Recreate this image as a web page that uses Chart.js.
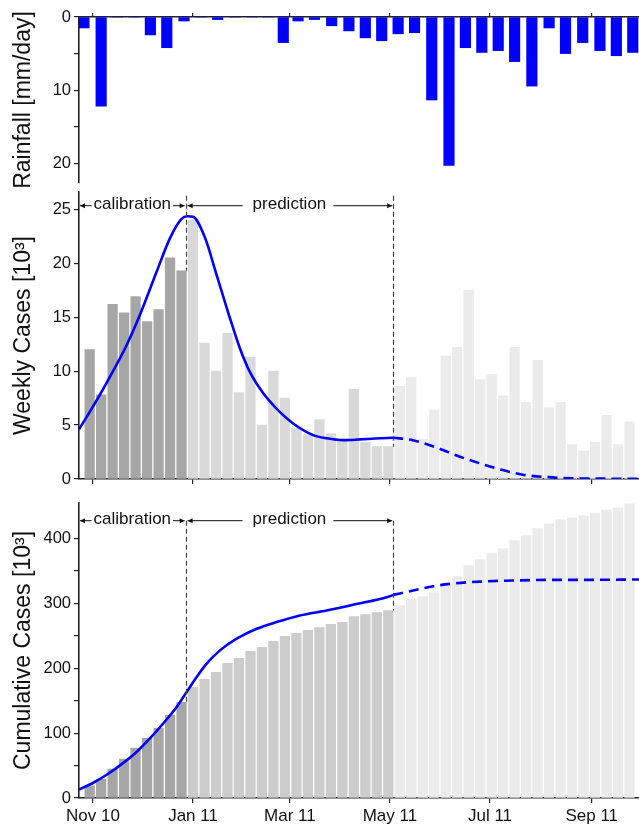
<!DOCTYPE html>
<html lang="en">
<head>
<meta charset="utf-8">
<title>Rainfall, weekly and cumulative cases</title>
<script src="https://cdn.jsdelivr.net/npm/chart.js@4.4.1/dist/chart.umd.min.js"></script>
<style>
  html, body { margin: 0; padding: 0; background: #fff; }
  #lienzo { position: relative; width: 639px; height: 825px; }
  #lienzo canvas { position: absolute; left: 0; }
</style>
</head>
<body>
<div id="lienzo">
  <canvas id="graficaLluvia" width="639" height="190" style="top:0"></canvas>
  <canvas id="graficaSemanal" width="639" height="300" style="top:186px"></canvas>
  <canvas id="graficaAcumulada" width="639" height="330" style="top:495px"></canvas>
</div>
<script>
// --- Datos ---
// lluvia por decada (10 dias), desde la 3a decada de oct 2010 hasta la 3a de sep 2011
const lluvia = [1.5, 12.2, 0, 0, 2.45, 4.2, 0.55, 0, 0.35, 0, 0, 0, 3.5, 0.55, 0.35, 1.2, 1.9,
                2.85, 3.25, 2.3, 2.15, 11.35, 20.3, 4.2, 4.85, 4.6, 6.1, 9.45, 1.5, 5.0, 3.5,
                4.6, 5.3, 4.85];

// casos semanales observados [10^3], semanas desde el 30 oct 2010
const semanal = [12.0, 7.8, 16.2, 15.4, 16.9, 14.6, 15.7, 20.5, 19.3, 24.0, 12.6, 10.0, 13.5,
                 8.0, 11.3, 5.0, 10.0, 7.5, 4.7, 4.1, 5.5, 4.2, 3.5, 8.3, 3.4, 3.0, 3.0, 8.6,
                 9.4, 3.7, 6.4, 11.4, 12.2, 17.5, 9.2, 9.7, 7.7, 12.2, 7.1, 11.0, 6.6, 7.1,
                 3.2, 2.6, 3.4, 5.9, 3.2, 5.3];

// casos acumulados observados [10^3]
const acumulado = [18.9, 29.2, 44.6, 60, 76.9, 92.3, 107.7, 127.7, 147.7, 170.8, 183, 193.8,
                   207.7, 215.4, 226.2, 232.3, 241.5, 249.2, 253.8, 258.5, 263, 267.7, 270.8,
                   280, 283, 286.1, 289.2, 296.9, 307.7, 310.8, 316.9, 327.7, 341.5, 358.5,
                   367.7, 376.9, 384.6, 396.9, 404.6, 415.4, 423, 429.2, 432.3, 435.4, 438.5,
                   444.6, 447.7, 453.8];

// modelo semanal (dias desde el 1 nov 2010, valor)
const modeloDiasSem = [-8.5, 0, 9, 20.5, 28.6, 38.8, 46.9, 54, 57.5, 61, 68.2, 75.4, 83.5, 89.6,
                       95.7, 103.8, 114, 122, 134.2, 142.4, 152.5, 162.7, 172, 183, 195, 209.6,
                       223.6, 235.8, 248, 262, 280, 297, 315, 333];
const modeloSem = [4.6, 6.7, 9.1, 12.4, 15.2, 19.2, 22.3, 24.1, 24.35, 24.3, 22.4, 18.9, 14.9,
                   12.1, 9.9, 7.95, 6.2, 5.15, 4.07, 3.77, 3.6, 3.67, 3.75, 3.83, 3.6, 2.9, 2.07,
                   1.45, 0.9, 0.4, 0.15, 0.05, 0.03, 0.02];

// modelo acumulado
const modeloDiasAc = [-8.5, 0.2, 9.3, 16.5, 26.6, 34.7, 42.8, 51, 57.1, 63.2, 69.3, 77.4, 87.6,
                      99.8, 111.9, 126.1, 142.4, 158.6, 181, 183, 195.2, 207.4, 219.6, 235.8,
                      256.1, 276.5, 296.8, 333];
const modeloAc = [13, 23.5, 37.4, 50.3, 71, 91.8, 114.9, 140.5, 163.5, 186.6, 207.2, 227.7,
                  245.7, 261, 271.3, 281.5, 289.2, 298, 311.3, 313.3, 320, 326.6, 330.8, 333.8,
                  335.4, 336.4, 336.4, 337];

// etiquetas del eje x
const etiquetasMes = ['Nov 10', 'Jan 11', 'Mar 11', 'May 11', 'Jul 11', 'Sep 11'];
const fechasMes = [[2010, 11, 1], [2011, 1, 1], [2011, 3, 1], [2011, 5, 1], [2011, 7, 1], [2011, 9, 1]];

// --- Fechas -> dias ---
const ORIGEN = Date.UTC(2010, 10, 1);
function dia(a, m, d) { return (Date.UTC(a, m - 1, d) - ORIGEN) / 864e5; }

const ticksMes = fechasMes.map(f => dia(f[0], f[1], f[2]));
const diasSemana = semanal.map((v, i) => dia(2010, 10, 30) + 7 * i);

// centros de las decadas
const diasDecada = [];
for (let k = 0; diasDecada.length < lluvia.length; k++) {
  const a = 2010 + Math.floor((9 + Math.floor(k / 3)) / 12);
  const m = (9 + Math.floor(k / 3)) % 12 + 1;
  const d = k % 3;
  if (a === 2010 && m === 10 && d < 2) continue;
  const diasMes = new Date(Date.UTC(a, m, 0)).getUTCDate();
  const largo = d < 2 ? 10 : diasMes - 20;
  diasDecada.push(dia(a, m, 1 + 10 * d) + largo / 2);
}

const FIN_CALIB = 56.5;
const FIN_PRED = 183;
const X_MIN = -8.5, X_MAX = 332.8;

const FUENTE = '"Liberation Sans", Arial, sans-serif';
const COLOR_EJE = '#222';
const AZUL = '#0000ff';

function puntos(xs, ys) { return xs.map((x, i) => ({ x: x, y: ys[i] })); }

function sinRelleno(s) {
  s.paddingTop = 0; s.paddingBottom = 0; s.paddingLeft = 0; s.paddingRight = 0;
}

function ejeX(posicion, conEtiquetas, alto) {
  return {
    type: 'linear', position: posicion, min: X_MIN, max: X_MAX, offset: false,
    afterBuildTicks: s => { s.ticks = ticksMes.map(v => ({ value: v })); },
    afterFit: s => { s.height = alto; sinRelleno(s); },
    grid: {
      offset: false, drawOnChartArea: false, drawTicks: true,
      tickLength: posicion === 'top' ? 4 : 5, color: COLOR_EJE, lineWidth: 1.2
    },
    border: { display: true, color: COLOR_EJE, width: 1.6 },
    ticks: {
      display: conEtiquetas, autoSkip: false, maxRotation: 0, padding: 3,
      color: '#111', font: { family: FUENTE, size: 17 },
      callback: (v, i) => etiquetasMes[i]
    }
  };
}

function ejeY(titulo, max, paso, etiqueta, invertido) {
  return {
    type: 'linear', position: 'left', min: 0, max: max, reverse: !!invertido,
    afterFit: s => { s.width = 79; sinRelleno(s); },
    grid: { drawOnChartArea: false, drawTicks: true, tickLength: 5, color: COLOR_EJE, lineWidth: 1.2 },
    border: { display: true, color: COLOR_EJE, width: 1.6 },
    ticks: {
      stepSize: paso, includeBounds: false, padding: 3,
      color: '#111', font: { family: FUENTE, size: 16.5 },
      callback: etiqueta
    },
    title: {
      display: true, text: titulo, color: '#111',
      font: { family: FUENTE, size: 23 }, padding: { top: 10, bottom: 0 }
    }
  };
}

// plugin para las flechas de calibracion / prediccion
function flecha(ctx, xa, xb, y) {
  ctx.beginPath(); ctx.moveTo(xa, y); ctx.lineTo(xb, y); ctx.stroke();
  const d = xb > xa ? 1 : -1;
  ctx.beginPath();
  ctx.moveTo(xb, y); ctx.lineTo(xb - d * 5, y - 2.5); ctx.lineTo(xb - d * 5, y + 2.5);
  ctx.closePath(); ctx.fill();
}

const anotaciones = {
  id: 'anotaciones',
  afterDatasetsDraw(chart, args, opts) {
    const ctx = chart.ctx, ex = chart.scales.x, ey = chart.scales.y;
    const y = chart.chartArea.top + opts.alto;
    const x0 = chart.chartArea.left;
    const x1 = ex.getPixelForValue(FIN_CALIB);
    const x2 = ex.getPixelForValue(FIN_PRED);
    ctx.save();
    // lineas discontinuas
    ctx.strokeStyle = '#444'; ctx.lineWidth = 1.2; ctx.setLineDash([5, 3]);
    [[x1, opts.base1], [x2, opts.base2]].forEach(p => {
      ctx.beginPath();
      ctx.moveTo(Math.round(p[0]) + 0.5, y - opts.arriba);
      ctx.lineTo(Math.round(p[0]) + 0.5, ey.getPixelForValue(p[1]));
      ctx.stroke();
    });
    ctx.setLineDash([]);
    ctx.strokeStyle = '#111'; ctx.fillStyle = '#111'; ctx.lineWidth = 1;
    ctx.font = '17px ' + FUENTE;
    ctx.textAlign = 'center'; ctx.textBaseline = 'middle';
    const c1 = (x0 + x1) / 2, w1 = ctx.measureText('calibration').width;
    ctx.fillText('calibration', c1, y - 1);
    flecha(ctx, c1 - w1 / 2 - 2, x0 + 1, y);
    flecha(ctx, c1 + w1 / 2 + 2, x1 - 1, y);
    const c2 = (x1 + x2) / 2, w2 = ctx.measureText('prediction').width;
    ctx.fillText('prediction', c2, y - 1);
    flecha(ctx, c2 - w2 / 2 - 10, x1 + 2, y);
    flecha(ctx, c2 + w2 / 2 + 7, x2 - 1, y);
    ctx.restore();
  }
};

function colorBarra(claro, medio) {
  return c => {
    const i = c.dataIndex;
    if (i < 9) return '#a6a6a6';
    if (i < 27) return medio;
    return claro;
  };
}

// --- Grafica de lluvia ---
new Chart(document.getElementById('graficaLluvia'), {
  type: 'bar',
  data: {
    datasets: [{
      label: 'Rainfall',
      data: puntos(diasDecada, lluvia),
      backgroundColor: AZUL,
      barThickness: 10.5
    }]
  },
  options: {
    responsive: false, animation: false,
    layout: { padding: { left: 0, right: 0, top: 0, bottom: 7 } },
    plugins: { legend: { display: false }, tooltip: { enabled: false } },
    scales: {
      x: ejeX('top', false, 17),
      y: ejeY('Rainfall [mm/day]', 22.7, 5, v => (v % 10 === 0 ? v : ''), true)
    }
  }
});

// --- Grafica semanal ---
new Chart(document.getElementById('graficaSemanal'), {
  type: 'bar',
  data: {
    datasets: [{
      type: 'line', label: 'Modelo',
      data: puntos(modeloDiasSem, modeloSem).filter(p => p.x <= FIN_PRED + 4),
      borderColor: AZUL, borderWidth: 2.6, pointRadius: 0, cubicInterpolationMode: 'monotone',
      order: 1
    }, {
      type: 'line', label: 'Modelo (pred.)',
      data: puntos(modeloDiasSem, modeloSem).filter(p => p.x >= FIN_PRED),
      borderColor: AZUL, borderWidth: 2.6, borderDash: [10, 6], pointRadius: 0,
      cubicInterpolationMode: 'monotone', order: 1
    }, {
      label: 'Weekly Cases',
      data: puntos(diasSemana, semanal),
      backgroundColor: colorBarra('#ebebeb', '#d9d9d9'),
      barThickness: 9.6, order: 2
    }]
  },
  options: {
    responsive: false, animation: false,
    layout: { padding: { left: 0, right: 0, top: 6, bottom: 1 } },
    plugins: {
      legend: { display: false }, tooltip: { enabled: false },
      anotaciones: { alto: 13.7, arriba: 10, base1: semanal[8], base2: semanal[26] }
    },
    scales: {
      x: ejeX('bottom', false, 6),
      y: ejeY('Weekly Cases [10³]', 26.6, 5, v => v)
    }
  },
  plugins: [anotaciones]
});

// --- Grafica acumulada ---
new Chart(document.getElementById('graficaAcumulada'), {
  type: 'bar',
  data: {
    datasets: [{
      type: 'line', label: 'Modelo',
      data: puntos(modeloDiasAc, modeloAc).filter(p => p.x <= FIN_PRED),
      borderColor: AZUL, borderWidth: 2.6, pointRadius: 0, cubicInterpolationMode: 'monotone',
      order: 1
    }, {
      type: 'line', label: 'Modelo (pred.)',
      data: puntos(modeloDiasAc, modeloAc).filter(p => p.x >= FIN_PRED),
      borderColor: AZUL, borderWidth: 2.6, borderDash: [10, 6], pointRadius: 0,
      cubicInterpolationMode: 'monotone', order: 1
    }, {
      label: 'Cumulative Cases',
      data: puntos(diasSemana, acumulado),
      backgroundColor: colorBarra('#ebebeb', '#cccccc'),
      barThickness: 9.6, order: 2
    }]
  },
  options: {
    responsive: false, animation: false,
    layout: { padding: { left: 0, right: 0, top: 8, bottom: 0 } },
    plugins: {
      legend: { display: false }, tooltip: { enabled: false },
      anotaciones: { alto: 17.7, arriba: 0, base1: acumulado[8], base2: acumulado[26] }
    },
    scales: {
      x: ejeX('bottom', true, 27),
      y: ejeY('Cumulative Cases [10³]', 455, 50, v => (v > 400 ? null : (v % 100 === 0 ? v : '')))
    }
  },
  plugins: [anotaciones]
});
</script>
</body>
</html>
